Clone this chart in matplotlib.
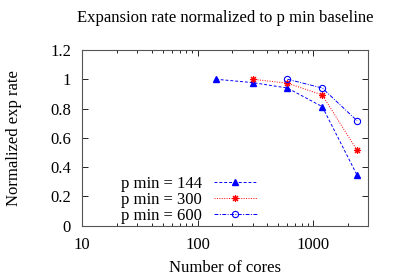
import numpy as np
import matplotlib
matplotlib.use('Agg')
import matplotlib.pyplot as plt

plt.rcParams['font.family'] = ['Liberation Serif', 'DejaVu Serif']

# data
cores_144 = [144, 300, 600, 1200, 2400]
rate_144 = [1.0, 0.977, 0.94, 0.813, 0.346]
cores_300 = [300, 600, 1200, 2400]
rate_300 = [1.0, 0.973, 0.893, 0.515]
cores_600 = [600, 1200, 2400]
rate_600 = [1.0, 0.94, 0.717]
labels = ['p min = 144', 'p min = 300', 'p min = 600']

fig = plt.figure(figsize=(3.99, 2.79), dpi=100)
ax = fig.add_axes([0.2055, 0.191, 0.7165, 0.63])

ax.plot(cores_144, rate_144, color='#0000ff', lw=0.7, ls=(0, (3, 2)),
        marker='^', ms=4, mfc='#0000ff', mec='#0000ff', label=labels[0])
ax.plot(cores_300, rate_300, color='#ff0000', lw=0.7, ls=(0, (1, 1.5)),
        marker=(8, 2, 0), ms=5, mew=0.8, mec='#ff0000', label=labels[1])
ax.plot(cores_600, rate_600, color='#0000ff', lw=0.7, ls=(0, (4, 1.5, 1, 1.5)),
        marker='o', ms=4.5, mfc='none', mec='#0000ff', mew=0.8, label=labels[2])

ax.set_xscale('log')
ax.set_xlim(10, 2980)
ax.set_ylim(0, 1.2)
ax.set_yticks(np.arange(0, 1.21, 0.2))
ax.set_yticklabels(['0', '0.2', '0.4', '0.6', '0.8', '1', '1.2'])
ax.set_xticks([10, 100, 1000])
ax.set_xticklabels(['10', '100', '1000'])

ax.tick_params(which='both', direction='in', top=True, right=True,
               labelsize=12, pad=8)
ax.tick_params(which='major', length=4, width=0.6)
ax.tick_params(which='minor', length=2, width=0.6)
for s in ax.spines.values():
    s.set_linewidth(0.8)
    s.set_color('#555555')

ax.set_title('Expansion rate normalized to p min baseline', fontsize=12, pad=20)
ax.set_xlabel('Number of cores', fontsize=12, labelpad=5)
ax.set_ylabel('Normalized exp rate', fontsize=12, labelpad=20)

leg = ax.legend(loc='lower left', bbox_to_anchor=(0.095, -0.055), frameon=False,
                markerfirst=False, fontsize=12, handlelength=2.6,
                handletextpad=0.7, labelspacing=0.0, borderpad=0.2)
for h in leg.get_lines():
    h.set_alpha(1.0)

fig.savefig('out.png', dpi=100)
